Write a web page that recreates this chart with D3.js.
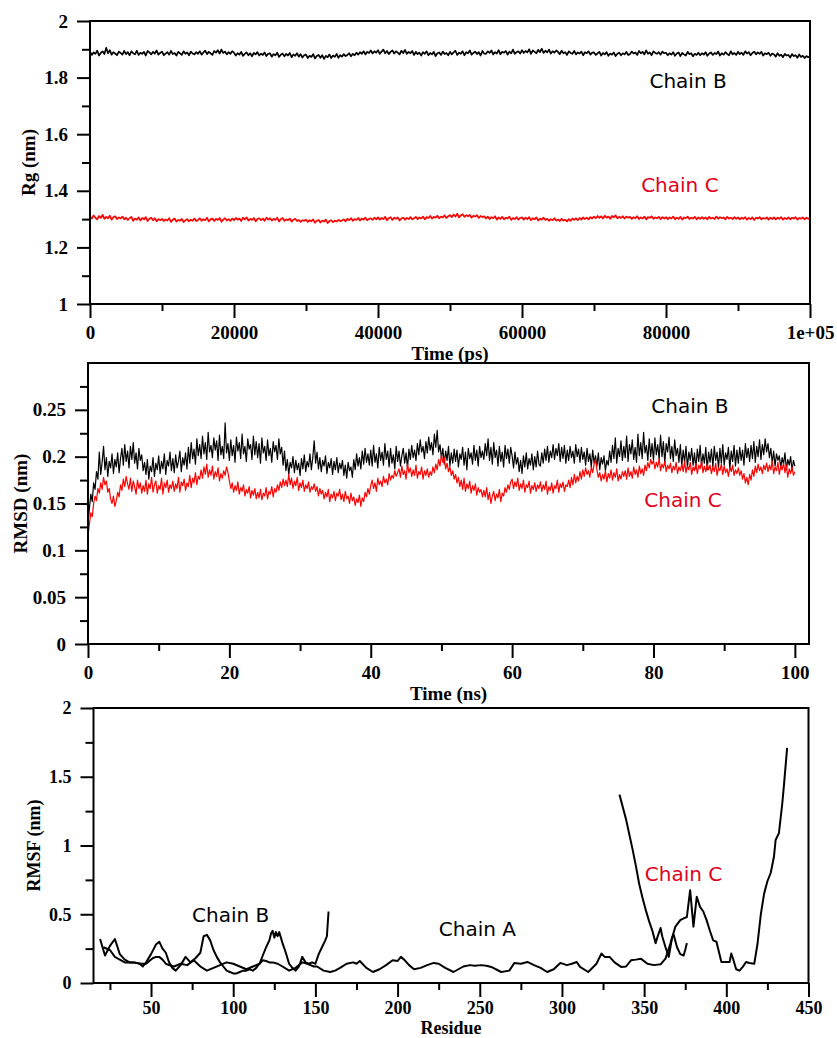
<!DOCTYPE html>
<html>
<head>
<meta charset="utf-8">
<script src="https://cdn.jsdelivr.net/npm/d3@7"></script>
<style>
  body { margin: 0; background: #fff; }
  svg { display: block; }
</style>
</head>
<body>
<svg id="fig" width="837" height="1038"></svg>
<script>
// ---------------- Radius of gyration (Rg), sampled every 250 ps ----------------
const rgStepPs = 250;
const rgChainB = [
  1.892,1.880,1.889,1.884,1.895,1.878,1.887,1.893,1.883,1.905,
  1.886,1.897,1.881,1.890,1.885,1.879,1.892,1.887,1.881,1.894,
  1.883,1.890,1.879,1.893,1.886,1.882,1.895,1.880,1.888,1.884,
  1.891,1.878,1.894,1.889,1.882,1.891,1.885,1.896,1.881,1.887,
  1.892,1.879,1.885,1.890,1.881,1.894,1.883,1.887,1.878,1.891,
  1.886,1.880,1.893,1.884,1.889,1.879,1.892,1.885,1.882,1.890,
  1.884,1.893,1.881,1.889,1.895,1.883,1.891,1.886,1.880,1.894,
  1.888,1.897,1.885,1.899,1.887,1.892,1.882,1.890,1.884,1.893,
  1.888,1.878,1.886,1.881,1.891,1.877,1.884,1.889,1.879,1.886,
  1.875,1.887,1.882,1.890,1.878,1.885,1.880,1.889,1.876,1.884,
  1.886,1.874,1.883,1.879,1.888,1.873,1.881,1.885,1.875,1.884,
  1.878,1.887,1.872,1.882,1.877,1.886,1.874,1.883,1.871,1.879,
  1.881,1.869,1.877,1.873,1.883,1.868,1.876,1.880,1.870,1.879,
  1.866,1.877,1.872,1.882,1.869,1.878,1.873,1.884,1.870,1.879,
  1.874,1.883,1.876,1.880,1.886,1.875,1.884,1.879,1.888,1.881,
  1.890,1.884,1.893,1.882,1.891,1.887,1.896,1.885,1.893,1.888,
  1.897,1.884,1.892,1.899,1.886,1.894,1.883,1.891,1.896,1.885,
  1.893,1.888,1.882,1.895,1.887,1.898,1.884,1.891,1.886,1.894,
  1.880,1.891,1.883,1.888,1.878,1.890,1.884,1.893,1.879,1.887,
  1.882,1.891,1.876,1.886,1.889,1.880,1.892,1.883,1.887,1.879,
  1.891,1.882,1.889,1.895,1.880,1.888,1.884,1.893,1.879,1.890,
  1.886,1.896,1.881,1.887,1.892,1.883,1.890,1.878,1.894,1.885,
  1.884,1.893,1.887,1.896,1.882,1.890,1.885,1.897,1.883,1.891,
  1.888,1.894,1.881,1.892,1.886,1.899,1.884,1.890,1.893,1.885,
  1.897,1.887,1.894,1.889,1.900,1.884,1.896,1.891,1.886,1.898,
  1.890,1.902,1.887,1.895,1.889,1.899,1.885,1.893,1.888,1.896,
  1.891,1.883,1.895,1.886,1.890,1.880,1.893,1.887,1.884,1.894,
  1.882,1.889,1.885,1.892,1.879,1.890,1.886,1.893,1.881,1.888,
  1.889,1.880,1.886,1.891,1.878,1.887,1.882,1.890,1.877,1.885,
  1.881,1.889,1.876,1.884,1.888,1.879,1.886,1.882,1.891,1.880,
  1.883,1.892,1.885,1.889,1.880,1.894,1.886,1.891,1.882,1.896,
  1.884,1.889,1.879,1.893,1.887,1.884,1.890,1.881,1.892,1.886,
  1.888,1.879,1.886,1.881,1.890,1.877,1.885,1.889,1.876,1.887,
  1.882,1.878,1.891,1.883,1.886,1.875,1.884,1.880,1.888,1.879,
  1.886,1.881,1.890,1.877,1.885,1.889,1.880,1.887,1.883,1.892,
  1.878,1.886,1.881,1.890,1.884,1.879,1.893,1.882,1.887,1.880,
  1.891,1.883,1.888,1.880,1.893,1.885,1.890,1.879,1.887,1.892,
  1.882,1.889,1.884,1.891,1.878,1.886,1.883,1.888,1.877,1.885,
  1.882,1.874,1.886,1.877,1.881,1.872,1.884,1.878,1.880,1.871,
  1.883,1.876,1.879,1.870,1.882,1.873,1.877,1.869,1.876,1.872,
  1.874
];
const rgChainC = [
  1.310,1.302,1.313,1.305,1.299,1.311,1.304,1.315,1.301,1.308,
  1.303,1.312,1.298,1.307,1.310,1.300,1.306,1.302,1.309,1.299,
  1.305,1.297,1.303,1.308,1.294,1.302,1.298,1.306,1.295,1.304,
  1.299,1.307,1.293,1.301,1.305,1.296,1.303,1.292,1.300,1.296,
  1.301,1.293,1.299,1.295,1.303,1.290,1.298,1.302,1.291,1.297,
  1.294,1.301,1.289,1.296,1.300,1.292,1.298,1.294,1.302,1.293,
  1.297,1.303,1.294,1.300,1.296,1.305,1.292,1.299,1.302,1.293,
  1.301,1.297,1.304,1.291,1.298,1.303,1.295,1.300,1.294,1.302,
  1.296,1.304,1.298,1.302,1.293,1.305,1.299,1.306,1.295,1.301,
  1.297,1.304,1.292,1.300,1.303,1.296,1.302,1.294,1.305,1.298,
  1.303,1.295,1.301,1.297,1.305,1.292,1.300,1.304,1.294,1.299,
  1.296,1.302,1.291,1.298,1.301,1.293,1.297,1.290,1.296,1.294,
  1.298,1.290,1.296,1.292,1.299,1.287,1.294,1.297,1.288,1.295,
  1.291,1.298,1.286,1.293,1.296,1.289,1.295,1.291,1.297,1.293,
  1.295,1.299,1.292,1.301,1.296,1.303,1.294,1.300,1.297,1.304,
  1.295,1.302,1.298,1.305,1.296,1.301,1.303,1.297,1.305,1.299,
  1.306,1.298,1.304,1.300,1.308,1.296,1.303,1.307,1.297,1.305,
  1.301,1.306,1.295,1.302,1.305,1.298,1.304,1.300,1.307,1.299,
  1.303,1.308,1.300,1.306,1.302,1.309,1.299,1.307,1.304,1.311,
  1.302,1.308,1.305,1.312,1.303,1.309,1.306,1.313,1.304,1.310,
  1.314,1.307,1.316,1.309,1.319,1.306,1.313,1.317,1.308,1.314,
  1.310,1.315,1.305,1.312,1.309,1.314,1.304,1.311,1.307,1.310,
  1.302,1.309,1.300,1.307,1.303,1.310,1.298,1.306,1.301,1.308,
  1.299,1.305,1.302,1.309,1.297,1.304,1.300,1.307,1.298,1.304,
  1.306,1.298,1.305,1.300,1.307,1.296,1.303,1.299,1.306,1.295,
  1.302,1.298,1.305,1.297,1.301,1.294,1.300,1.296,1.303,1.295,
  1.299,1.293,1.301,1.295,1.298,1.292,1.300,1.294,1.302,1.297,
  1.303,1.296,1.304,1.298,1.306,1.300,1.305,1.299,1.307,1.302,
  1.309,1.303,1.311,1.304,1.310,1.302,1.312,1.305,1.309,1.301,
  1.311,1.306,1.313,1.303,1.308,1.304,1.310,1.302,1.309,1.305,
  1.308,1.301,1.307,1.303,1.310,1.300,1.306,1.302,1.309,1.299,
  1.307,1.304,1.310,1.301,1.306,1.303,1.308,1.300,1.307,1.302,
  1.307,1.300,1.306,1.302,1.309,1.299,1.305,1.301,1.308,1.298,
  1.306,1.303,1.309,1.300,1.305,1.302,1.308,1.299,1.306,1.301,
  1.307,1.301,1.306,1.299,1.308,1.302,1.305,1.300,1.309,1.301,
  1.307,1.303,1.306,1.299,1.308,1.302,1.305,1.300,1.307,1.301,
  1.306,1.299,1.305,1.301,1.307,1.298,1.304,1.300,1.306,1.297,
  1.305,1.302,1.307,1.299,1.304,1.301,1.306,1.298,1.305,1.300,
  1.306,1.299,1.305,1.301,1.307,1.298,1.304,1.300,1.306,1.299,
  1.305,1.302,1.307,1.298,1.304,1.301,1.306,1.299,1.305,1.301,
  1.303
];
const rgTicksX = [0, 20000, 40000, 60000, 80000, 100000];
const rgTickLabelsX = ["0", "20000", "40000", "60000", "80000", "1e+05"];
const rgMinorX = [10000, 30000, 50000, 70000, 90000];
const rgTicksY = [1, 1.2, 1.4, 1.6, 1.8, 2];
const rgTickLabelsY = ["1", "1.2", "1.4", "1.6", "1.8", "2"];
const rgMinorY = [1.1, 1.3, 1.5, 1.7, 1.9];

// ---------------- Backbone RMSD, sampled every 0.2 ns ----------------
const rmsdStepNs = 0.2;
const rmsdChainB = [
  0.128,0.145,0.160,0.152,0.172,0.165,0.184,0.176,0.205,0.181,
  0.194,0.211,0.186,0.199,0.179,0.195,0.188,0.203,0.182,0.197,
  0.189,0.204,0.183,0.198,0.209,0.191,0.213,0.195,0.206,0.188,
  0.211,0.197,0.215,0.193,0.204,0.187,0.209,0.196,0.202,0.185,
  0.194,0.181,0.197,0.176,0.190,0.184,0.199,0.179,0.193,0.186,
  0.201,0.182,0.195,0.187,0.203,0.181,0.196,0.190,0.205,0.185,
  0.198,0.183,0.202,0.188,0.195,0.206,0.184,0.199,0.191,0.204,
  0.187,0.210,0.193,0.215,0.198,0.208,0.192,0.219,0.201,0.213,
  0.198,0.222,0.203,0.215,0.197,0.226,0.205,0.212,0.199,0.220,
  0.207,0.217,0.196,0.223,0.202,0.211,0.198,0.236,0.204,0.214,
  0.196,0.218,0.201,0.212,0.194,0.221,0.206,0.215,0.198,0.224,
  0.203,0.211,0.195,0.219,0.208,0.213,0.197,0.222,0.202,0.216,
  0.199,0.214,0.193,0.220,0.204,0.211,0.196,0.218,0.201,0.209,
  0.194,0.216,0.205,0.212,0.197,0.219,0.203,0.210,0.191,0.206,
  0.185,0.197,0.181,0.194,0.188,0.200,0.183,0.196,0.186,0.193,
  0.180,0.198,0.187,0.202,0.184,0.195,0.189,0.203,0.186,0.199,
  0.217,0.193,0.205,0.187,0.199,0.184,0.196,0.190,0.201,0.182,
  0.194,0.188,0.198,0.181,0.195,0.186,0.199,0.183,0.193,0.187,
  0.196,0.180,0.191,0.177,0.194,0.185,0.189,0.178,0.197,0.186,
  0.203,0.190,0.199,0.187,0.206,0.192,0.209,0.194,0.203,0.191,
  0.207,0.190,0.212,0.194,0.203,0.188,0.210,0.196,0.205,0.191,
  0.214,0.197,0.206,0.189,0.209,0.193,0.202,0.187,0.211,0.195,
  0.206,0.190,0.201,0.209,0.193,0.204,0.188,0.208,0.197,0.212,
  0.199,0.207,0.196,0.214,0.202,0.218,0.205,0.211,0.198,0.216,
  0.204,0.221,0.207,0.215,0.202,0.224,0.210,0.228,0.205,0.213,
  0.198,0.209,0.192,0.206,0.196,0.211,0.190,0.204,0.193,0.208,
  0.195,0.207,0.189,0.203,0.197,0.210,0.191,0.205,0.186,0.209,
  0.198,0.204,0.192,0.212,0.196,0.207,0.190,0.211,0.199,0.206,
  0.197,0.214,0.201,0.219,0.196,0.210,0.192,0.215,0.199,0.207,
  0.190,0.211,0.195,0.205,0.189,0.212,0.198,0.208,0.193,0.210,
  0.201,0.188,0.205,0.192,0.199,0.184,0.196,0.182,0.201,0.189,
  0.204,0.187,0.198,0.191,0.203,0.186,0.200,0.189,0.206,0.192,
  0.190,0.204,0.193,0.208,0.196,0.211,0.194,0.206,0.199,0.213,
  0.197,0.209,0.201,0.214,0.195,0.210,0.198,0.212,0.193,0.207,
  0.196,0.211,0.199,0.206,0.193,0.213,0.200,0.208,0.194,0.210,
  0.197,0.205,0.191,0.209,0.195,0.203,0.189,0.207,0.193,0.201,
  0.190,0.204,0.186,0.199,0.192,0.201,0.185,0.196,0.191,0.206,
  0.194,0.212,0.198,0.220,0.193,0.209,0.200,0.217,0.196,0.211,
  0.199,0.222,0.195,0.213,0.203,0.218,0.197,0.210,0.194,0.224,
  0.201,0.215,0.198,0.226,0.204,0.212,0.196,0.219,0.200,0.214,
  0.196,0.220,0.202,0.213,0.197,0.223,0.200,0.216,0.193,0.214,
  0.205,0.221,0.198,0.211,0.195,0.218,0.201,0.209,0.194,0.213,
  0.190,0.207,0.194,0.211,0.188,0.205,0.196,0.209,0.191,0.204,
  0.187,0.208,0.195,0.212,0.190,0.203,0.193,0.210,0.186,0.205,
  0.194,0.208,0.189,0.211,0.196,0.205,0.188,0.209,0.193,0.213,
  0.191,0.204,0.197,0.210,0.187,0.206,0.195,0.212,0.190,0.207,
  0.193,0.210,0.196,0.207,0.191,0.214,0.199,0.209,0.195,0.212,
  0.198,0.216,0.194,0.211,0.200,0.218,0.197,0.213,0.202,0.219,
  0.205,0.214,0.199,0.209,0.193,0.206,0.190,0.203,0.196,0.201,
  0.188,0.199,0.192,0.204,0.186,0.197,0.191,0.200,0.185,0.196,
  0.190
];
const rmsdChainC = [
  0.115,0.128,0.140,0.136,0.150,0.158,0.153,0.166,0.161,0.172,
  0.165,0.178,0.170,0.174,0.162,0.166,0.155,0.150,0.158,0.147,
  0.153,0.162,0.157,0.170,0.164,0.176,0.168,0.179,0.171,0.165,
  0.177,0.163,0.174,0.168,0.160,0.175,0.166,0.172,0.161,0.169,
  0.163,0.175,0.160,0.171,0.166,0.178,0.162,0.170,0.174,0.161,
  0.169,0.165,0.177,0.160,0.172,0.167,0.175,0.162,0.170,0.166,
  0.174,0.163,0.171,0.166,0.178,0.162,0.173,0.169,0.176,0.164,
  0.172,0.168,0.180,0.167,0.177,0.172,0.183,0.170,0.179,0.176,
  0.186,0.177,0.189,0.181,0.192,0.178,0.186,0.180,0.190,0.176,
  0.184,0.179,0.188,0.174,0.182,0.177,0.185,0.180,0.189,0.183,
  0.174,0.166,0.172,0.162,0.169,0.164,0.173,0.160,0.167,0.163,
  0.170,0.158,0.165,0.161,0.168,0.156,0.164,0.159,0.166,0.155,
  0.162,0.156,0.165,0.154,0.161,0.158,0.167,0.155,0.163,0.160,
  0.168,0.157,0.166,0.162,0.170,0.164,0.173,0.167,0.176,0.169,
  0.175,0.168,0.181,0.170,0.177,0.166,0.174,0.169,0.178,0.164,
  0.172,0.167,0.175,0.163,0.170,0.166,0.173,0.162,0.168,0.165,
  0.171,0.163,0.168,0.158,0.166,0.160,0.164,0.155,0.162,0.157,
  0.165,0.152,0.160,0.156,0.163,0.153,0.161,0.158,0.165,0.154,
  0.160,0.152,0.163,0.155,0.158,0.150,0.161,0.153,0.157,0.148,
  0.155,0.151,0.159,0.147,0.156,0.152,0.162,0.157,0.166,0.160,
  0.169,0.175,0.166,0.172,0.163,0.177,0.170,0.174,0.168,0.179,
  0.172,0.176,0.170,0.182,0.175,0.180,0.177,0.185,0.179,0.183,
  0.187,0.178,0.190,0.181,0.185,0.176,0.192,0.183,0.188,0.179,
  0.186,0.180,0.191,0.177,0.184,0.181,0.189,0.176,0.185,0.180,
  0.187,0.178,0.184,0.180,0.189,0.183,0.192,0.186,0.197,0.190,
  0.202,0.194,0.199,0.187,0.193,0.184,0.189,0.180,0.185,0.176,
  0.181,0.172,0.178,0.168,0.175,0.165,0.177,0.163,0.171,0.166,
  0.174,0.161,0.169,0.164,0.171,0.159,0.167,0.162,0.165,0.157,
  0.164,0.157,0.167,0.154,0.162,0.150,0.158,0.163,0.153,0.160,
  0.156,0.165,0.152,0.161,0.158,0.167,0.162,0.170,0.165,0.173,
  0.176,0.166,0.173,0.168,0.177,0.164,0.171,0.166,0.175,0.162,
  0.170,0.167,0.174,0.161,0.169,0.165,0.172,0.163,0.170,0.166,
  0.173,0.163,0.170,0.165,0.174,0.160,0.168,0.164,0.172,0.161,
  0.169,0.166,0.175,0.162,0.171,0.167,0.173,0.163,0.170,0.168,
  0.175,0.167,0.178,0.170,0.181,0.172,0.179,0.174,0.184,0.176,
  0.186,0.179,0.188,0.181,0.185,0.178,0.189,0.183,0.192,0.197,
  0.186,0.178,0.183,0.174,0.181,0.176,0.185,0.173,0.182,0.177,
  0.186,0.175,0.183,0.178,0.187,0.174,0.181,0.176,0.184,0.179,
  0.185,0.176,0.188,0.179,0.184,0.177,0.189,0.181,0.186,0.178,
  0.190,0.182,0.187,0.180,0.191,0.185,0.194,0.188,0.197,0.192,
  0.196,0.187,0.194,0.189,0.198,0.185,0.192,0.188,0.195,0.184,
  0.191,0.187,0.193,0.183,0.190,0.186,0.194,0.182,0.189,0.185,
  0.192,0.184,0.195,0.183,0.190,0.186,0.194,0.181,0.189,0.185,
  0.193,0.182,0.191,0.187,0.195,0.183,0.190,0.184,0.192,0.186,
  0.191,0.182,0.189,0.184,0.193,0.180,0.188,0.185,0.192,0.181,
  0.190,0.183,0.187,0.179,0.189,0.184,0.191,0.180,0.186,0.182,
  0.188,0.180,0.185,0.176,0.182,0.172,0.178,0.170,0.181,0.175,
  0.186,0.179,0.190,0.183,0.192,0.185,0.189,0.182,0.191,0.186,
  0.193,0.184,0.191,0.186,0.195,0.182,0.189,0.185,0.194,0.181,
  0.190,0.186,0.193,0.183,0.191,0.178,0.187,0.182,0.189,0.180,
  0.184
];
const rmsdTicksX = [0, 20, 40, 60, 80, 100];
const rmsdTickLabelsX = ["0", "20", "40", "60", "80", "100"];
const rmsdMinorX = [10, 30, 50, 70, 90];
const rmsdTicksY = [0, 0.05, 0.1, 0.15, 0.2, 0.25];
const rmsdTickLabelsY = ["0", "0.05", "0.1", "0.15", "0.2", "0.25"];
const rmsdMinorY = [0.025, 0.075, 0.125, 0.175, 0.225, 0.275];

// ---------------- Per-residue RMSF ----------------
const rmsfResA = [21,25,28,31,34,39,44,47,51,53,55,57,59,61,64,68,72,76,80,84,88,92,96,100,104,108,112,116,118,120,122,124,127,130,134,138,142,145,147,149,151,155,159,162,165,169,173,175,177,181,185,189,193,197,200,202,204,207,210,214,218,222,225,229,234,240,244,247,251,254,257,263,268,271,275,279,283,287,291,295,299,303,306,309,311,316,321,324,326,329,332,336,339,342,345,348,352,356,360,363,366,369,372,374,376,378,380,382,384,386,388,390,392,394,397,400,402,403,404,406,408,410,412,414,417,419,421,423,425,427,429,430,432,434,435,437];
const rmsfValA = [0.26,0.24,0.19,0.17,0.15,0.15,0.14,0.14,0.18,0.19,0.19,0.17,0.14,0.13,0.12,0.14,0.13,0.165,0.12,0.09,0.11,0.13,0.15,0.14,0.12,0.10,0.12,0.14,0.165,0.16,0.15,0.15,0.14,0.12,0.09,0.11,0.15,0.14,0.13,0.12,0.12,0.09,0.08,0.09,0.11,0.14,0.15,0.14,0.16,0.11,0.08,0.10,0.13,0.165,0.16,0.19,0.17,0.13,0.10,0.11,0.13,0.146,0.14,0.11,0.08,0.12,0.13,0.125,0.13,0.125,0.117,0.08,0.09,0.146,0.14,0.153,0.13,0.11,0.08,0.10,0.146,0.13,0.14,0.153,0.117,0.08,0.14,0.214,0.19,0.19,0.15,0.117,0.12,0.165,0.17,0.177,0.14,0.13,0.136,0.177,0.287,0.41,0.457,0.47,0.48,0.675,0.41,0.627,0.554,0.52,0.457,0.38,0.31,0.30,0.153,0.153,0.153,0.214,0.18,0.10,0.09,0.117,0.153,0.145,0.14,0.287,0.50,0.65,0.74,0.80,0.92,1.04,1.09,1.30,1.43,1.71];
const rmsfResB = [19,22,25,28,31,34,37,40,43,45,47,50,53,55,57,59,61,63,65,68,71,74,77,80,82,84,86,88,90,92,94,96,98,100,102,104,106,108,110,112,114,116,118,120,122,123,124,125,126,127,128,130,132,134,136,138,140,142,144,146,148,150,152,154,156,157,158];
const rmsfValB = [0.32,0.20,0.27,0.32,0.21,0.17,0.15,0.15,0.14,0.12,0.15,0.21,0.28,0.30,0.25,0.22,0.15,0.11,0.09,0.13,0.19,0.15,0.18,0.22,0.34,0.35,0.31,0.24,0.19,0.15,0.12,0.09,0.08,0.07,0.07,0.08,0.09,0.09,0.10,0.09,0.11,0.14,0.20,0.26,0.31,0.36,0.38,0.33,0.37,0.34,0.37,0.29,0.22,0.14,0.11,0.09,0.12,0.19,0.15,0.14,0.15,0.14,0.21,0.26,0.31,0.34,0.52];
const rmsfResC = [335,337,339,341,343,345,347,349,351,353,355,357,358,360,361,363,365,367,368,370,372,374,375,376];
const rmsfValC = [1.37,1.28,1.19,1.08,0.97,0.85,0.72,0.62,0.53,0.45,0.38,0.29,0.33,0.40,0.34,0.26,0.19,0.33,0.35,0.26,0.21,0.20,0.24,0.29];
const rmsfTicksX = [50, 100, 150, 200, 250, 300, 350, 400, 450];
const rmsfMinorX = [25, 75, 125, 175, 225, 275, 325, 375, 425];
const rmsfTicksY = [0, 0.5, 1, 1.5, 2];
const rmsfTickLabelsY = ["0", "0.5", "1", "1.5", "2"];
const rmsfMinorY = [0.25, 0.75, 1.25, 1.75];

// ---------------- drawing ----------------
const svg = d3.select("#fig");
svg.append("rect").attr("width", 837).attr("height", 1038).attr("fill", "#fff");

const SERIF = "'Liberation Serif','Times New Roman',Times,serif";
const SANS = "'DejaVu Sans',Verdana,sans-serif";
const RED_LINE = "#ff0000";
const RED_TEXT = "#e3001b";

function styleAxis(sel, size) {
  sel.attr("font-family", SERIF);
  sel.select(".domain").remove();
  sel.selectAll("line").attr("stroke", "#000").attr("stroke-width", 2);
  if (size) {
    sel.selectAll("text")
      .style("font-family", SERIF)
      .style("font-weight", "bold")
      .style("font-size", size + "px")
      .attr("fill", "#000");
  }
}

function panel(p) {
  const x = d3.scaleLinear().domain(p.xDomain).range([p.left, p.right]);
  const y = d3.scaleLinear().domain(p.yDomain).range([p.bottom, p.top]);
  const g = svg.append("g");
  const fs = p.fontSize;

  // series
  p.series.forEach(s => {
    const line = d3.line()
      .x((d, i) => x(s.xs[i]))
      .y(d => y(d));
    g.append("path")
      .datum(s.ys)
      .attr("d", line)
      .attr("fill", "none")
      .attr("stroke", s.color)
      .attr("stroke-width", s.width)
      .attr("stroke-linejoin", "round");
  });

  // minor ticks
  g.append("g").attr("transform", `translate(0,${p.bottom})`)
    .call(d3.axisBottom(x).tickValues(p.xMinor).tickSize(7).tickFormat(""))
    .call(a => styleAxis(a, 0));
  g.append("g").attr("transform", `translate(${p.left},0)`)
    .call(d3.axisLeft(y).tickValues(p.yMinor).tickSize(8).tickFormat(""))
    .call(a => styleAxis(a, 0));

  // major ticks with labels
  g.append("g").attr("transform", `translate(0,${p.bottom})`)
    .call(d3.axisBottom(x).tickValues(p.xTicks).tickSize(14).tickPadding(p.xPad)
      .tickFormat((d, i) => p.xLabels[i]))
    .call(a => styleAxis(a, fs));
  g.append("g").attr("transform", `translate(${p.left},0)`)
    .call(d3.axisLeft(y).tickValues(p.yTicks).tickSize(13).tickPadding(9)
      .tickFormat((d, i) => p.yLabels[i]))
    .call(a => styleAxis(a, fs));

  // frame
  g.append("rect")
    .attr("x", p.left).attr("y", p.top)
    .attr("width", p.right - p.left).attr("height", p.bottom - p.top)
    .attr("fill", "none").attr("stroke", "#000").attr("stroke-width", 2);

  // axis titles
  g.append("text")
    .attr("x", (p.left + p.right) / 2).attr("y", p.xTitleY)
    .attr("text-anchor", "middle")
    .style("font-family", SERIF).style("font-weight", "bold").style("font-size", fs + "px")
    .text(p.xTitle);
  g.append("text")
    .attr("transform", `translate(${p.yTitleX},${(p.top + p.bottom) / 2}) rotate(-90)`)
    .attr("text-anchor", "middle")
    .style("font-family", SERIF).style("font-weight", "bold").style("font-size", fs + "px")
    .text(p.yTitle);

  // chain annotations
  p.notes.forEach(n => {
    g.append("text")
      .attr("x", x(n.at[0])).attr("y", y(n.at[1]))
      .style("font-family", SANS).style("font-size", "20px")
      .attr("fill", n.color)
      .text(n.text);
  });
}

const rgTime = rgChainB.map((_, i) => i * rgStepPs);
const rmsdTime = rmsdChainB.map((_, i) => i * rmsdStepNs);

panel({
  left: 90, right: 810, top: 21, bottom: 304, fontSize: 19, xPad: 8,
  xDomain: [0, 100000], yDomain: [1, 2],
  xTicks: rgTicksX, xLabels: rgTickLabelsX, xMinor: rgMinorX,
  yTicks: rgTicksY, yLabels: rgTickLabelsY, yMinor: rgMinorY,
  xTitle: "Time (ps)", xTitleY: 360,
  yTitle: "Rg (nm)", yTitleX: 35,
  series: [
    { xs: rgTime, ys: rgChainB, color: "#000", width: 1.7 },
    { xs: rgTime, ys: rgChainC, color: RED_LINE, width: 1.7 }
  ],
  notes: [
    { text: "Chain B", at: [77700, 1.762], color: "#000" },
    { text: "Chain C", at: [76550, 1.397], color: RED_TEXT }
  ]
});

panel({
  left: 88, right: 809, top: 363, bottom: 644, fontSize: 19, xPad: 8,
  xDomain: [0, 102], yDomain: [0, 0.3],
  xTicks: rmsdTicksX, xLabels: rmsdTickLabelsX, xMinor: rmsdMinorX,
  yTicks: rmsdTicksY, yLabels: rmsdTickLabelsY, yMinor: rmsdMinorY,
  xTitle: "Time (ns)", xTitleY: 700,
  yTitle: "RMSD (nm)", yTitleX: 27,
  series: [
    { xs: rmsdTime, ys: rmsdChainB, color: "#000", width: 1.2 },
    { xs: rmsdTime, ys: rmsdChainC, color: RED_LINE, width: 1.2 }
  ],
  notes: [
    { text: "Chain B", at: [79.7, 0.2463], color: "#000" },
    { text: "Chain C", at: [78.7, 0.1466], color: RED_TEXT }
  ]
});

panel({
  left: 93.5, right: 808.5, top: 708, bottom: 983, fontSize: 18, xPad: 4,
  xDomain: [15, 450], yDomain: [0, 2],
  xTicks: rmsfTicksX, xLabels: rmsfTicksX.map(String), xMinor: rmsfMinorX,
  yTicks: rmsfTicksY, yLabels: rmsfTickLabelsY, yMinor: rmsfMinorY,
  xTitle: "Residue", xTitleY: 1034,
  yTitle: "RMSF (nm)", yTitleX: 40,
  series: [
    { xs: rmsfResA, ys: rmsfValA, color: "#000", width: 2 },
    { xs: rmsfResB, ys: rmsfValB, color: "#000", width: 2 },
    { xs: rmsfResC, ys: rmsfValC, color: "#000", width: 2 }
  ],
  notes: [
    { text: "Chain B", at: [75, 0.4436], color: "#000" },
    { text: "Chain A", at: [225.1, 0.342], color: "#000" },
    { text: "Chain C", at: [350.4, 0.744], color: RED_TEXT }
  ]
});
</script>
</body>
</html>
